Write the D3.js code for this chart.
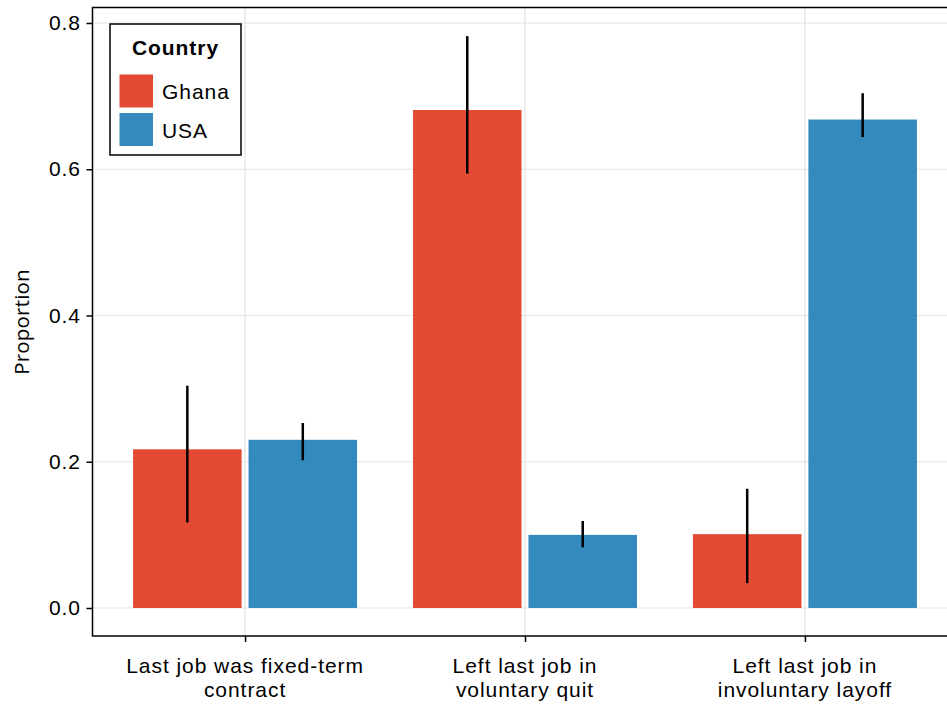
<!DOCTYPE html>
<html>
<head>
<meta charset="utf-8">
<script src="https://cdn.jsdelivr.net/npm/d3@7"></script>
<style>
  html, body { margin: 0; padding: 0; background: #fff; }
  svg { display: block; }
  text { font-family: "Liberation Sans", Arial, sans-serif; fill: #000; letter-spacing: 0.95px; }
</style>
</head>
<body>
<svg id="chart" width="947" height="704"></svg>
<script>
const categories = [
  ["Last job was fixed-term", "contract"],
  ["Left last job in", "voluntary quit"],
  ["Left last job in", "involuntary layoff"]
];
const countries = ["Ghana", "USA"];
const ghanaValues = [0.217, 0.681, 0.101];
const ghanaLow   = [0.117, 0.594, 0.034];
const ghanaHigh  = [0.304, 0.782, 0.163];
const usaValues  = [0.230, 0.100, 0.668];
const usaLow     = [0.202, 0.083, 0.644];
const usaHigh    = [0.253, 0.119, 0.704];
const yTicks = [0.0, 0.2, 0.4, 0.6, 0.8];
const colors = ["#E24A33", "#348ABD"];

const svg = d3.select("#chart");
const pLeft = 92.5, pRight = 957.5, pTop = 7.5, pBottom = 636;

const x = d3.scaleLinear().domain([0.455, 3.545]).range([pLeft, pRight]);
const y = d3.scaleLinear().domain([-0.0383, 0.8212]).range([pBottom, pTop]);
const dodge = d3.scaleBand().domain(countries).range([-112, 112]).paddingInner(0.06);
const color = d3.scaleOrdinal().domain(countries).range(colors);

// gridlines
const grid = svg.append("g");
grid.selectAll(".hg").data(yTicks).join("line")
  .attr("x1", pLeft).attr("x2", pRight)
  .attr("y1", d => y(d)).attr("y2", d => y(d))
  .attr("stroke", "#e3e3e3").attr("stroke-width", 1.2);
grid.selectAll(".vg").data(categories.map((c, i) => i + 1)).join("line")
  .attr("x1", d => x(d)).attr("x2", d => x(d))
  .attr("y1", pTop).attr("y2", pBottom)
  .attr("stroke", "#e3e3e3").attr("stroke-width", 1.2);

// data rows
const rows = [];
categories.forEach((c, i) => {
  rows.push({cat: i + 1, country: "Ghana", v: ghanaValues[i], lo: ghanaLow[i], hi: ghanaHigh[i]});
  rows.push({cat: i + 1, country: "USA", v: usaValues[i], lo: usaLow[i], hi: usaHigh[i]});
});

svg.append("g").selectAll("rect").data(rows).join("rect")
  .attr("x", d => x(d.cat) + dodge(d.country))
  .attr("width", dodge.bandwidth())
  .attr("y", d => y(d.v))
  .attr("height", d => y(0) - y(d.v))
  .attr("fill", d => color(d.country));

svg.append("g").selectAll("line").data(rows).join("line")
  .attr("x1", d => x(d.cat) + dodge(d.country) + dodge.bandwidth() / 2)
  .attr("x2", d => x(d.cat) + dodge(d.country) + dodge.bandwidth() / 2)
  .attr("y1", d => y(d.lo)).attr("y2", d => y(d.hi))
  .attr("stroke", "#000").attr("stroke-width", 2.5);

// frame
svg.append("rect").attr("x", pLeft).attr("y", pTop)
  .attr("width", pRight - pLeft).attr("height", pBottom - pTop)
  .attr("fill", "none").attr("stroke", "#000").attr("stroke-width", 1.5);

// y axis
const yAxis = d3.axisLeft(y).tickValues(yTicks).tickFormat(d3.format(".1f")).tickSize(6).tickPadding(5);
const gy = svg.append("g").attr("transform", `translate(${pLeft},0)`).call(yAxis);
gy.select(".domain").remove();
gy.selectAll(".tick line").attr("stroke", "#000").attr("stroke-width", 1.5);
gy.selectAll(".tick text").attr("font-size", 21).attr("font-family", "Liberation Sans, Arial, sans-serif")
  .attr("fill", "#000").attr("x", -11.5);

// x axis
const xAxis = d3.axisBottom(x).tickValues([1, 2, 3]).tickFormat("").tickSize(6);
const gx = svg.append("g").attr("transform", `translate(0,${pBottom})`).call(xAxis);
gx.select(".domain").remove();
gx.selectAll(".tick line").attr("stroke", "#000").attr("stroke-width", 1.5);

const xl = svg.append("g").selectAll("text").data(categories).join("text")
  .attr("x", (d, i) => x(i + 1))
  .attr("y", 672.5)
  .attr("text-anchor", "middle")
  .attr("font-size", 21);
xl.append("tspan").attr("x", (d, i) => x(i + 1)).text(d => d[0]);
xl.append("tspan").attr("x", (d, i) => x(i + 1)).attr("dy", 24.5).text(d => d[1]);

// y title
svg.append("text")
  .attr("transform", "translate(29,322) rotate(-90)")
  .attr("text-anchor", "middle")
  .attr("font-size", 20.5)
  .style("font-family", "'Open Sans', sans-serif")
  .style("letter-spacing", "0.2px")
  .text("Proportion");

// legend
const lg = svg.append("g");
lg.append("rect").attr("x", 110).attr("y", 24).attr("width", 131).attr("height", 131)
  .attr("fill", "#fff").attr("stroke", "#000").attr("stroke-width", 1.5);
lg.append("text").attr("x", 175.5).attr("y", 55).attr("text-anchor", "middle")
  .attr("font-size", 21).attr("font-weight", "bold").text("Country");
const items = lg.selectAll(".item").data(countries).join("g")
  .attr("transform", (d, i) => `translate(0,${i * 38.5})`);
items.append("rect").attr("x", 119.5).attr("y", 74.5).attr("width", 33.5).attr("height", 33)
  .attr("fill", d => color(d));
items.append("text").attr("x", 162).attr("y", 99).attr("font-size", 21).text(d => d);
</script>
</body>
</html>
